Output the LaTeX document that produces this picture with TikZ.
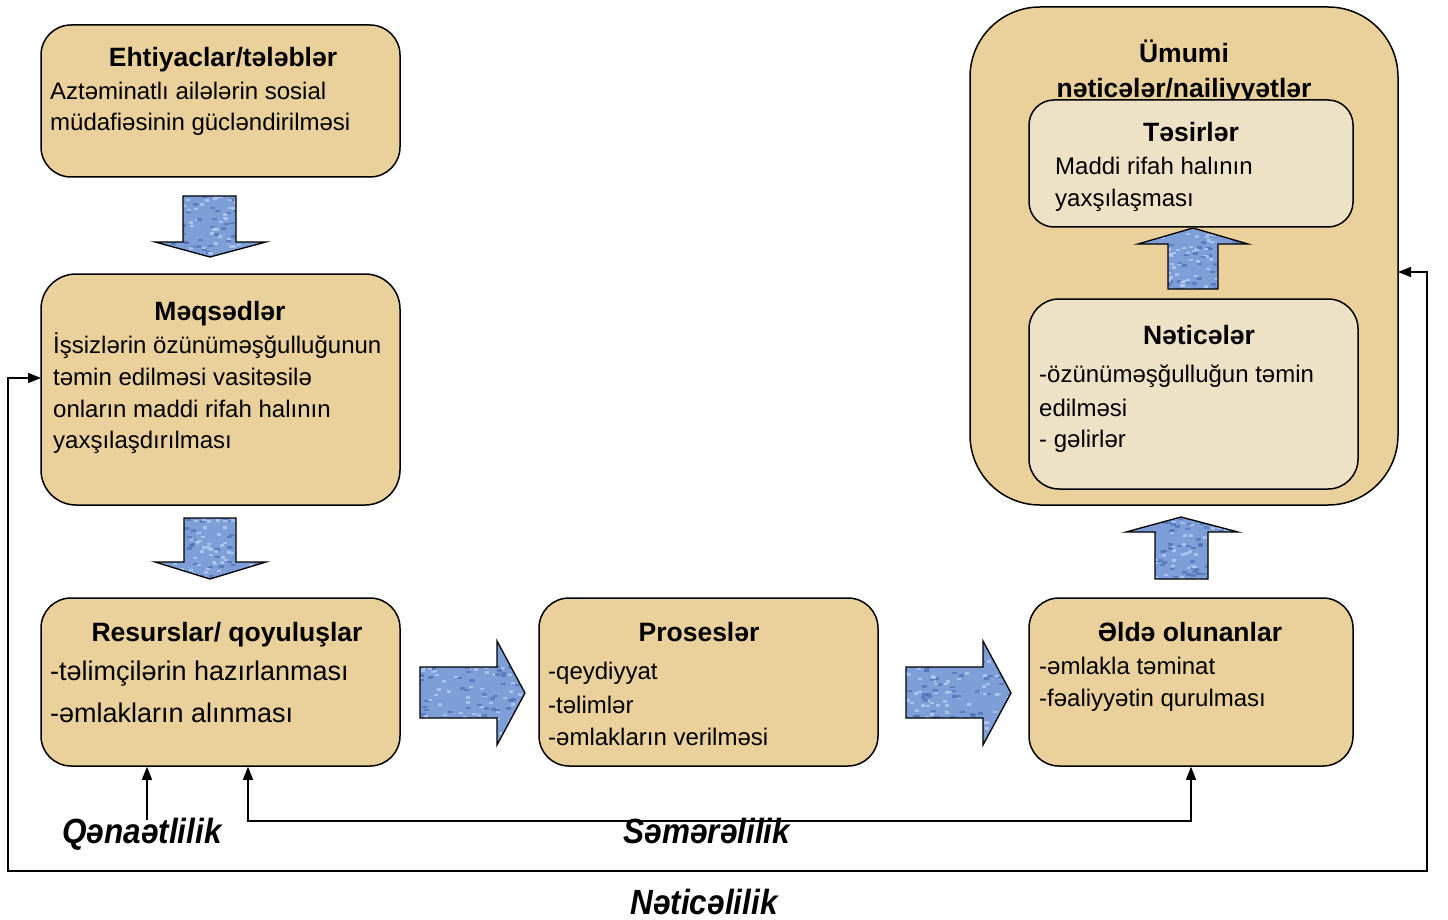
\documentclass[tikz,border=0pt]{standalone}
\usepackage{fontspec}
\setmainfont{Liberation Sans}
\usetikzlibrary{arrows.meta}
\definecolor{papyrus}{HTML}{EAD09A}
\definecolor{papyruslight}{HTML}{EEE2C6}
\definecolor{arrowblue}{HTML}{7D9ED6}
\definecolor{texdark}{HTML}{4E70B4}
\definecolor{texlight}{HTML}{B3CBF0}
\tikzset{
  pbox/.style={draw=black, line width=1.5pt, fill=papyrus, rounded corners=#1},
  pbox/.default=30pt,
  lbox/.style={draw=black, line width=1.5pt, fill=papyruslight, rounded corners=#1},
  lbox/.default=25pt,
  ttl/.style={font=\fontsize{26.5}{30}\selectfont\bfseries, anchor=base, inner sep=0pt},
  txt/.style={font=\fontsize{24}{28}\selectfont, anchor=base west, inner sep=0pt},
  txtl/.style={font=\fontsize{27}{30}\selectfont, anchor=base west, inner sep=0pt},
  lab/.style={font=\fontsize{35}{38}\selectfont\bfseries\itshape, anchor=base, inner sep=0pt},
  blockarrow/.style={draw=black, line width=1.3pt, line join=miter},
  conn/.style={draw=black, line width=1.3pt, -{Triangle[length=13pt,width=10pt]}},
  conn2/.style={draw=black, line width=1.3pt, {Triangle[length=13pt,width=10pt]}-{Triangle[length=13pt,width=10pt]}}
}
% a block arrow with a woven blue texture: #1 outline, #2..#5 its bounding box
\newcommand{\bluearrow}[5]{%
  \fill[arrowblue] #1;
  \begin{scope}
    \clip #1;
    \foreach \k in {1,...,170}{
      \pgfmathsetmacro{\px}{#2+rnd*(#3-#2)}
      \pgfmathsetmacro{\py}{#4+rnd*(#5-#4)}
      \pgfmathsetmacro{\pc}{rnd}
      \ifdim\pc pt<0.5pt
        \fill[texdark, opacity=0.7] (\px,\py) rectangle ++(5,2.5);
      \else
        \fill[texlight, opacity=0.8] (\px,\py) rectangle ++(4,2.5);
      \fi
    }
  \end{scope}
  \draw[blockarrow] #1;
}
\begin{document}
\begin{tikzpicture}[x=1pt,y=-1pt]
\pgfmathsetseed{17}
\useasboundingbox (0,0) rectangle (1448,920);

% boxes on the left and in the middle
\node[pbox, minimum width=359pt, minimum height=152pt] (need) at (220.5,101) {};
\node[pbox=35pt, minimum width=359pt, minimum height=231pt] (goal) at (220.5,389.5) {};
\node[pbox, minimum width=359pt, minimum height=168pt] (res) at (220.5,682) {};
\node[pbox, minimum width=339pt, minimum height=168pt] (proc) at (708.5,682) {};
\node[pbox, minimum width=324pt, minimum height=168pt] (out) at (1191,682) {};

% large box of overall results
\node[pbox=70pt, minimum width=428pt, minimum height=498pt] (overall) at (1184,256) {};
\node[ttl] (overallA) at (1184,63) {Ümumi};
\node[ttl] (overallB) at (1184,98) {nəticələr/nailiyyətlər};
\node[lbox, minimum width=324pt, minimum height=127pt] (impact) at (1191,163.5) {};
\node[lbox=30pt, minimum width=329pt, minimum height=190pt] (result) at (1193.5,394) {};

% texts
\node[ttl] (needT) at (223,67) {Ehtiyaclar/tələblər};
\node[txt] (needA) at (50,100) {Aztəminatlı ailələrin sosial};
\node[txt] (needB) at (50,131) {müdafiəsinin gücləndirilməsi};

\node[ttl] (goalT) at (220,320) {Məqsədlər};
\node[txt] (goalA) at (53,353) {İşsizlərin özünüməşğulluğunun};
\node[txt] (goalB) at (53,385) {təmin edilməsi vasitəsilə};
\node[txt] (goalC) at (53,417) {onların maddi rifah halının};
\node[txt] (goalD) at (53,448) {yaxşılaşdırılması};

\node[ttl] (resT) at (227,641) {Resurslar/ qoyuluşlar};
\node[txtl] (resA) at (50,680) {-təlimçilərin hazırlanması};
\node[txtl] (resB) at (50,722) {-əmlakların alınması};

\node[ttl] (procT) at (699,641) {Proseslər};
\node[txt] (procA) at (548,679) {-qeydiyyat};
\node[txt] (procB) at (548,713) {-təlimlər};
\node[txt] (procC) at (548,745) {-əmlakların verilməsi};

\node[ttl] (outT) at (1190,641) {Əldə olunanlar};
\node[txt] (outA) at (1039,674) {-əmlakla təminat};
\node[txt] (outB) at (1039,706) {-fəaliyyətin qurulması};

\node[ttl] (impactT) at (1191,142) {Təsirlər};
\node[txt] (impactA) at (1055,175) {Maddi rifah halının};
\node[txt] (impactB) at (1055,207) {yaxşılaşması};

\node[ttl] (resultT) at (1199,344) {Nəticələr};
\node[txt] (resultA) at (1039,382) {-özünüməşğulluğun təmin};
\node[txt] (resultB) at (1039,416) {edilməsi};
\node[txt] (resultC) at (1039,447) {- gəlirlər};

% block arrows
\bluearrow{(183,196) -- (236,196) -- (236,242) -- (266,242) -- (210,257)
  -- (155,242) -- (183,242) -- cycle}{150}{266}{194}{258}
\bluearrow{(184,518) -- (236,518) -- (236,562) -- (266,562) -- (210,579)
  -- (155,562) -- (184,562) -- cycle}{150}{266}{516}{580}
\bluearrow{(420,667) -- (497,667) -- (497,641) -- (525,693) -- (497,745)
  -- (497,718) -- (420,718) -- cycle}{416}{526}{639}{746}
\bluearrow{(906,667) -- (983,667) -- (983,641) -- (1011,693) -- (983,745)
  -- (983,718) -- (906,718) -- cycle}{902}{1012}{639}{746}
\bluearrow{(1168,289) -- (1168,244) -- (1138,244) -- (1193,228) -- (1248,244)
  -- (1218,244) -- (1218,289) -- cycle}{1134}{1248}{225}{290}
\bluearrow{(1155,579) -- (1155,532) -- (1126,532) -- (1181,517) -- (1238,532)
  -- (1208,532) -- (1208,579) -- cycle}{1122}{1238}{514}{580}

% bottom labels
\node[lab] (saving) at (142,843) {\scalebox{0.9}[1]{Qənaətlilik}};
\node[lab] (efficiency) at (707,843) {\scalebox{0.9}[1]{Səmərəlilik}};
\node[lab] (effect) at (704,914) {\scalebox{0.9}[1]{Nəticəlilik}};

% connectors
\coordinate (q0) at (147,820);
\draw[conn] (q0) -- (q0 |- res.south);
\coordinate (sL) at (248,821);
\coordinate (sR) at (1191,821);
\draw[conn2] (sL |- res.south) -- (sL) -- (sR) -- (sR |- out.south);
\coordinate (nInL) at (41,378);
\coordinate (nL) at (8,871);
\coordinate (nR) at (1427,871);
\coordinate (nInR) at (1398,272);
\draw[conn2] (nInL) -- (nInL -| nL) -- (nL) -- (nR) -- (nR |- nInR) -- (nInR);
\end{tikzpicture}
\end{document}
